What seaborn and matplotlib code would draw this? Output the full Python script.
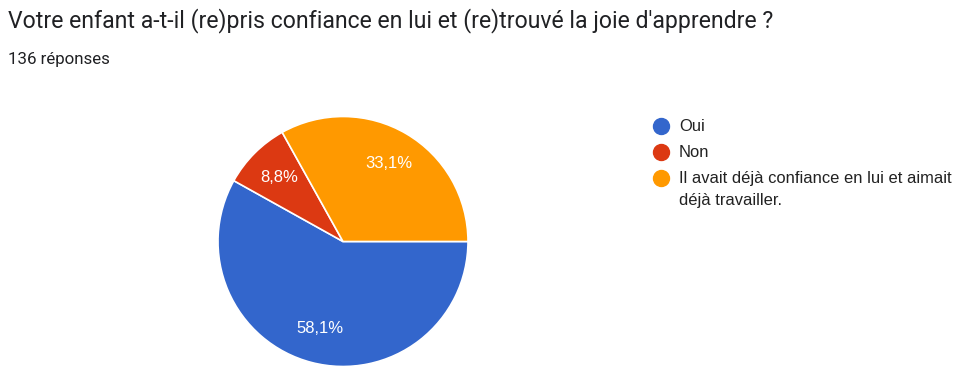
import matplotlib
matplotlib.use("Agg")
import matplotlib.pyplot as plt
import seaborn as sns
from matplotlib.lines import Line2D

# Data
categories = ["Oui", "Non", "Il avait déjà confiance en lui et aimait\ndéjà travailler."]
counts = [79, 12, 45]
colors = ["#3366CC", "#DC3912", "#FF9900"]
title = "Votre enfant a-t-il (re)pris confiance en lui et (re)trouvé la joie d'apprendre ?"
subtitle = "136 réponses"

sns.set_theme(style="white")
plt.rcParams["font.family"] = ["Liberation Sans", "DejaVu Sans"]

W, H = 967, 378
fig = plt.figure(figsize=(W / 100, H / 100), dpi=100)
fig.patch.set_facecolor("white")

def fx(px):
    return px / W

def fy(py):
    return 1 - py / H

# pie axes: center (343, 241.5), radius 125 px
cx, cy, r = 343, 241.5, 125
ax = fig.add_axes([(cx - r) / W, (H - cy - r) / H, 2 * r / W, 2 * r / H])

def fmt(p):
    return f"{p:.1f}".replace(".", ",") + "%"

wedges, texts, autotexts = ax.pie(
    counts, colors=colors, startangle=0, counterclock=False,
    autopct=fmt, pctdistance=0.72,
    wedgeprops=dict(edgecolor="white", linewidth=1.2),
    textprops=dict(color="white", fontsize=12, family=["Liberation Sans"]),
)
ax.set_xlim(-1, 1)
ax.set_ylim(-1, 1)
ax.set_aspect("equal")
ax.axis("off")

fig.text(fx(8), fy(27.5), title, fontsize=16.6, family=["Roboto", "DejaVu Sans"],
         color="#202124", va="baseline", ha="left")
fig.text(fx(8), fy(64), subtitle, fontsize=12.2, family=["Roboto", "DejaVu Sans"],
         color="#202124", va="baseline", ha="left")

# legend
for i, (cat, col) in enumerate(zip(categories, colors)):
    ycen = 126 + 26 * i
    fig.add_artist(Line2D([fx(661)], [fy(ycen)], marker="o", linestyle="",
                          markersize=11.5, markerfacecolor=col, markeredgecolor=col,
                          transform=fig.transFigure))
    for j, line in enumerate(cat.split("\n")):
        fig.text(fx(679), fy(ycen + 5.3 + 22 * j), line, fontsize=11.9,
                 family=["Liberation Sans", "DejaVu Sans"], color="#222222",
                 va="baseline", ha="left")

fig.savefig("out.png", dpi=100, facecolor="white")
